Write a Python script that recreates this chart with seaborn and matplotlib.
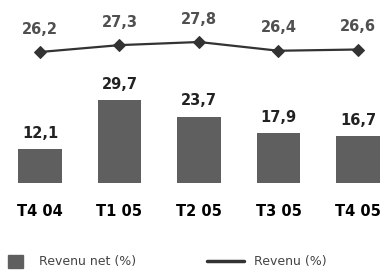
import matplotlib
matplotlib.use("Agg")
import matplotlib.pyplot as plt
from matplotlib.patches import Patch
from matplotlib.lines import Line2D
import seaborn as sns
import pandas as pd

# données
quarters = ["T4 04", "T1 05", "T2 05", "T3 05", "T4 05"]
revenu_net = [12.1, 29.7, 23.7, 17.9, 16.7]
revenu = [26.2, 27.3, 27.8, 26.4, 26.6]

bar_color = "#5f5f5f"
line_color = "#333333"

sns.set_theme(style="white")
plt.rcParams["font.family"] = ["DejaVu Sans"]

df = pd.DataFrame({"q": quarters, "net": revenu_net, "rev": revenu})

fig = plt.figure(figsize=(3.8, 2.72), dpi=100)
ax = fig.add_axes([0, 1 - 183 / 272, 1, 183 / 272])

sns.barplot(data=df, x="q", y="net", color=bar_color, width=0.55,
            saturation=1, linewidth=0, ax=ax)
ax.set_xlim(-0.503, 4.277)
ax.set_ylim(0, 65.4)

for i, v in enumerate(revenu_net):
    ax.annotate(f"{v:.1f}".replace(".", ","), (i, v), xytext=(0, 6),
                textcoords="offset points", ha="center", va="bottom",
                fontsize=10.5, fontweight="bold", color="#222222")

# courbe sur un second axe
ax2 = ax.twinx()
sns.lineplot(x=list(range(len(quarters))), y=revenu, ax=ax2, color=line_color,
             linewidth=1.6, marker="D", markersize=6,
             markeredgecolor=line_color, markerfacecolor=line_color)
ax2.set_ylim(5.24, 34.52)
ax2.set_xlim(-0.503, 4.277)

for i, v in enumerate(revenu):
    ax2.annotate(f"{v:.1f}".replace(".", ","), (i, v), xytext=(0, 11),
                 textcoords="offset points", ha="center", va="bottom",
                 fontsize=10.5, fontweight="bold", color="#505050")

for a in (ax, ax2):
    a.set_yticks([])
    a.set_xlabel("")
    a.set_ylabel("")
    for s in a.spines.values():
        s.set_visible(False)

ax.set_xticks(range(len(quarters)))
ax.set_xticklabels(quarters, fontsize=10.5, fontweight="bold", color="black")
ax.tick_params(axis="x", length=0, pad=15)

# légende
fig.legend(handles=[Patch(facecolor=bar_color, edgecolor=bar_color,
                          label="Revenu net (%)")],
           loc="center left", bbox_to_anchor=(-0.009, 0.038),
           frameon=False, handlelength=1.2, handleheight=1.2,
           fontsize=9, labelcolor="#444444", handletextpad=1.3)
fig.legend(handles=[Line2D([0], [0], color=line_color, linewidth=2.5,
                           label="Revenu (%)")],
           loc="center left", bbox_to_anchor=(0.515, 0.038),
           frameon=False, handlelength=3.0, fontsize=9,
           labelcolor="#444444", handletextpad=0.8)

fig.savefig("out.png", dpi=100)
